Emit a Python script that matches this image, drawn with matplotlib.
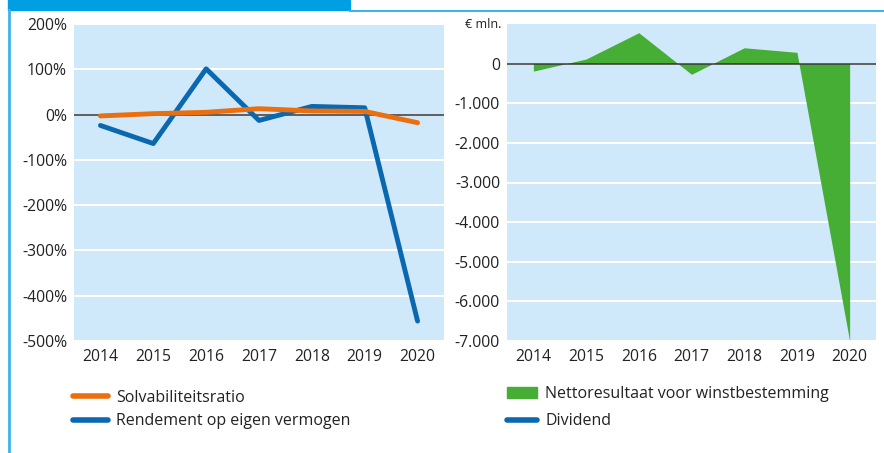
import matplotlib
matplotlib.use("Agg")
import matplotlib.pyplot as plt
from matplotlib.lines import Line2D
from matplotlib.patches import Patch, Rectangle
import numpy as np

# data
years = [2014, 2015, 2016, 2017, 2018, 2019, 2020]
solvabiliteit = [-3, 2, 5, 13, 8, 7, -18]          # %
rendement = [-24, -64, 101, -13, 18, 15, -456]     # %
nettoresultaat = [-190, 116, 780, -270, 400, 285, -7000]  # EUR mln
dividend = [np.nan] * 7                            # not visible in chart

left_ticks = [200, 100, 0, -100, -200, -300, -400, -500]
right_ticks = [0, -1000, -2000, -3000, -4000, -5000, -6000, -7000]

ORANGE = "#ea6f0e"
BLUE = "#0a68b0"
GREEN = "#46ad35"
BG = "#cfe8fa"
FRAME = "#3fb2e8"
TXT = "#222222"

plt.rcParams['font.family'] = ['Open Sans', 'DejaVu Sans']

fig = plt.figure(figsize=(8.84, 4.53), dpi=100)

# page decoration: header band and frame lines
fig.patches.append(Rectangle((8/884, 1-10/453), 342/884, 10/453, transform=fig.transFigure,
                             color="#009fe3", zorder=0))
fig.add_artist(Line2D([350/884, 1], [1-11/453, 1-11/453], color=FRAME, lw=1.5))
fig.add_artist(Line2D([9/884, 9/884], [0, 1-10/453], color=FRAME, lw=2))

def style(ax, ylo, yhi, ticks):
    ax.set_facecolor(BG)
    for s in ax.spines.values():
        s.set_visible(False)
    ax.set_xlim(2013.5, 2020.5)
    ax.set_ylim(ylo, yhi)
    ax.set_xticks(years)
    ax.set_yticks(ticks)
    ax.tick_params(length=0, labelsize=11.3, colors=TXT)
    ax.tick_params(axis='x', pad=6)
    ax.tick_params(axis='y', pad=5)
    ax.grid(axis='y', color='white', lw=1.5)
    ax.set_axisbelow(True)
    ax.axhline(0, color='#333333', lw=1.1, zorder=2)

ax1 = fig.add_axes([74/884, 1-341/453, 370/884, 317/453])
style(ax1, -500, 200, left_ticks)
ax1.set_yticklabels(["%d%%" % t if t >= 0 else "-%d%%" % -t for t in left_ticks])
ax1.plot(years, rendement, color=BLUE, lw=3.5, zorder=3, solid_capstyle='round',
         label="Rendement op eigen vermogen")
ax1.plot(years, solvabiliteit, color=ORANGE, lw=3.5, zorder=4, solid_capstyle='round',
         label="Solvabiliteitsratio")

ax2 = fig.add_axes([507/884, 1-341/453, 369/884, 317/453])
style(ax2, -7000, 1000, right_ticks)
ax2.set_yticklabels(["0" if t == 0 else "-{:,}".format(-t).replace(",", ".") for t in right_ticks])
ax2.fill_between(years, nettoresultaat, 0, color=GREEN, lw=0, zorder=1.5)
ax2.plot(years, dividend, color=BLUE, lw=3.5)
ax2.text(-0.015, 1.0, "€ mln.", transform=ax2.transAxes, ha='right', va='center',
         fontsize=9, color=TXT)

h1 = [Line2D([], [], color=ORANGE, lw=4, solid_capstyle='round'),
      Line2D([], [], color=BLUE, lw=4, solid_capstyle='round')]
fig.legend(h1, ["Solvabiliteitsratio", "Rendement op eigen vermogen"],
           loc='upper left', bbox_to_anchor=(73/884, 1-390/453), frameon=False,
           fontsize=11.5, handlelength=2.2, handletextpad=0.5, labelspacing=0.45,
           borderpad=0, borderaxespad=0, labelcolor=TXT)

h2 = [Patch(color=GREEN), Line2D([], [], color=BLUE, lw=4, solid_capstyle='round')]
fig.legend(h2, ["Nettoresultaat voor winstbestemming", "Dividend"],
           loc='upper left', bbox_to_anchor=(507/884, 1-386/453), frameon=False,
           fontsize=11.5, handlelength=1.9, handletextpad=0.5, labelspacing=0.7,
           borderpad=0, borderaxespad=0, labelcolor=TXT)

fig.savefig("out.png", dpi=100)
